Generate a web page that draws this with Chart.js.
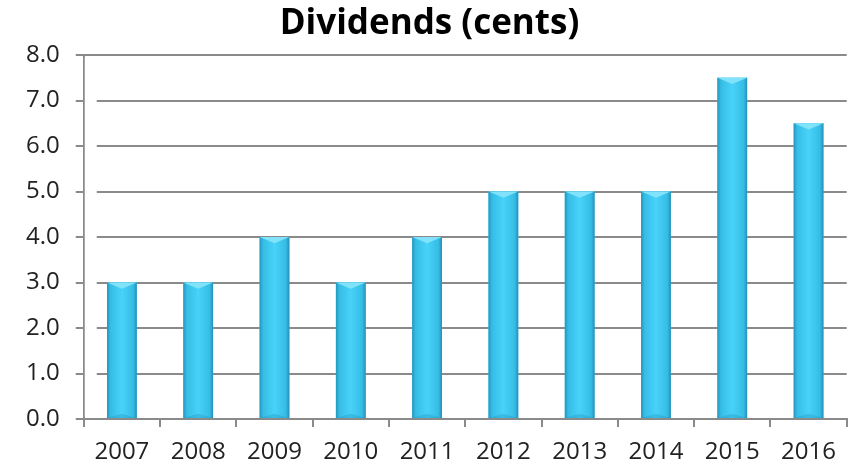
<!DOCTYPE html>
<html>
<head>
<meta charset="utf-8">
<script src="https://cdn.jsdelivr.net/npm/chart.js@4/dist/chart.umd.min.js"></script>
<style>
html,body{margin:0;padding:0;background:#fff;}
#wrap{width:849px;height:465px;}
</style>
</head>
<body>
<div id="wrap"><canvas id="c" width="849" height="465"></canvas></div>
<script>
const categories = ['2007','2008','2009','2010','2011','2012','2013','2014','2015','2016'];
const dividends = [3.0, 3.0, 4.0, 3.0, 4.0, 5.0, 5.0, 5.0, 7.5, 6.5];
const titleText = 'Dividends (cents)';

const gapPlugin = {
  id: 'gridGap',
  beforeDatasetsDraw(chart) {
    const a = chart.chartArea, ctx = chart.ctx;
    ctx.save();
    ctx.fillStyle = '#fff';
    ctx.fillRect(a.left + 1, a.top + 2, 12, a.bottom - a.top - 4);
    ctx.restore();
  }
};

const bevelPlugin = {
  id: 'bevel',
  afterDatasetsDraw(chart) {
    const ctx = chart.ctx;
    const meta = chart.getDatasetMeta(0);
    meta.data.forEach(bar => {
      const p = bar.getProps(['x','y','base','width'], true);
      const l = p.x - p.width / 2, r = p.x + p.width / 2;
      const t = p.y, b = p.base;
      ctx.save();
      const g = ctx.createLinearGradient(l, 0, r, 0);
      g.addColorStop(0, '#2596bd');
      g.addColorStop(0.12, '#36bde6');
      g.addColorStop(0.5, '#48d2f9');
      g.addColorStop(0.88, '#36bde6');
      g.addColorStop(1, '#2590b6');
      ctx.fillStyle = g;
      ctx.fillRect(l, t, r - l, b - t);
      const bev = p.width * 0.35;
      ctx.beginPath();
      ctx.moveTo(l, t);
      ctx.lineTo(r, t);
      ctx.lineTo(p.x, t + bev * 0.6);
      ctx.closePath();
      ctx.fillStyle = '#80e3fb';
      ctx.fill();
      ctx.beginPath();
      ctx.moveTo(l, b);
      ctx.lineTo(r, b);
      ctx.lineTo(p.x, b - bev * 0.4);
      ctx.closePath();
      ctx.fillStyle = 'rgba(30,140,180,0.3)';
      ctx.fill();
      ctx.restore();
    });
  }
};

new Chart(document.getElementById('c'), {
  type: 'bar',
  data: {
    labels: categories,
    datasets: [{
      data: dividends,
      backgroundColor: '#3cc6f0',
      borderWidth: 0,
      barPercentage: 0.39,
      categoryPercentage: 1.0
    }]
  },
  options: {
    responsive: false,
    animation: false,
    devicePixelRatio: 1,
    layout: { padding: { left: 10, right: 0, top: 0, bottom: -12 } },
    plugins: {
      legend: { display: false },
      tooltip: { enabled: false },
      title: {
        display: true,
        text: titleText,
        color: '#000',
        font: { family: 'Open Sans', size: 35, weight: 'bold' },
        padding: { top: 3, bottom: 10 }
      }
    },
    scales: {
      x: {
        grid: { display: true, drawOnChartArea: false, drawTicks: true, tickLength: 8, color: '#8a8a8a', lineWidth: 2, offset: true },
        border: { display: true, color: '#8a8a8a', width: 2 },
        ticks: { color: '#222', font: { family: 'Open Sans', size: 24, lineHeight: 1.0 }, padding: 13, maxRotation: 0 }
      },
      y: {
        min: 0, max: 8,
        grid: { color: '#8a8a8a', lineWidth: 2, tickLength: 8 },
        border: { display: true, color: '#8a8a8a', width: 2 },
        ticks: { stepSize: 1, color: '#222', font: { family: 'Open Sans', size: 24 }, padding: 16,
          callback: v => Number(v).toFixed(1) }
      }
    }
  },
  plugins: [gapPlugin, bevelPlugin]
});
</script>
</body>
</html>
